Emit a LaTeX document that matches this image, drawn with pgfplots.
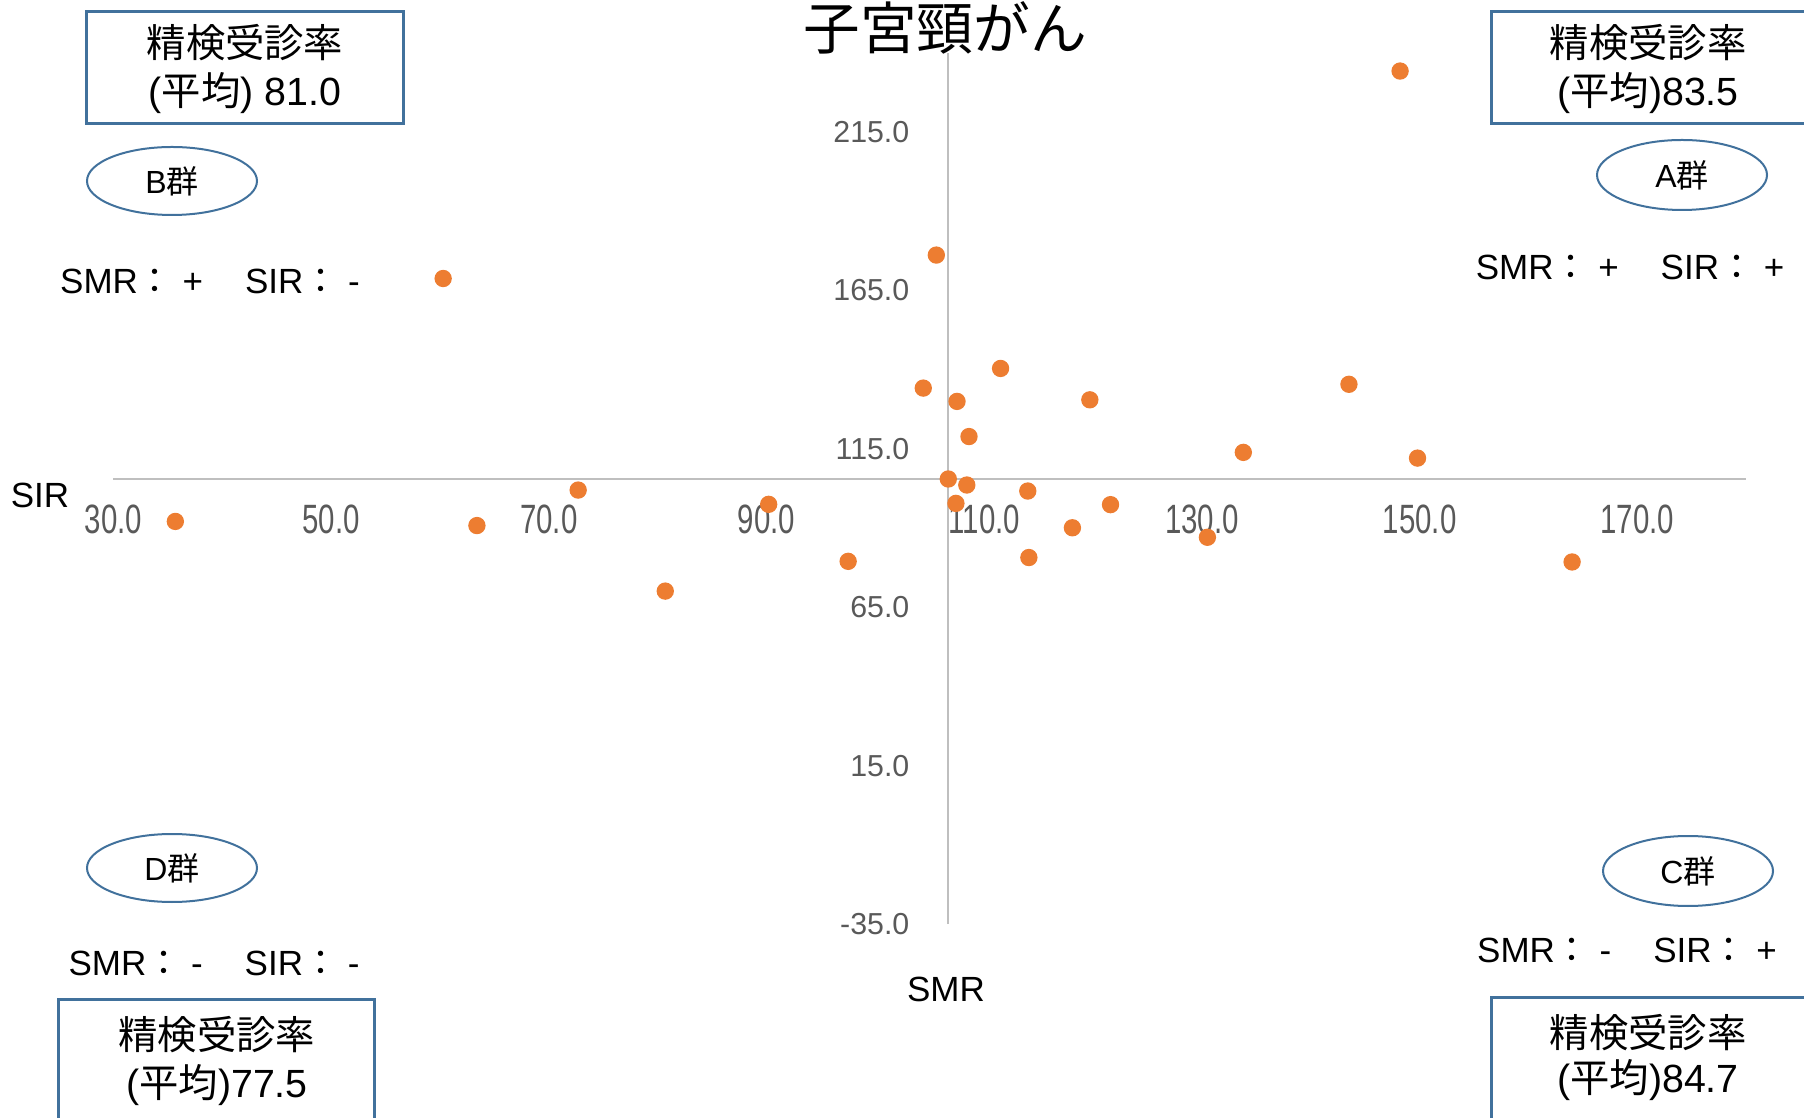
\documentclass[border=0pt]{standalone}
\usepackage{fontspec}
\setmainfont{Liberation Sans}
\newfontfamily\jp{Noto Sans CJK JP}
\usepackage{graphicx}
\usepackage{pgfplots}
\pgfplotsset{compat=1.18}
\definecolor{dot}{HTML}{ED7D31}
\definecolor{shp}{HTML}{41719C}
\definecolor{axl}{HTML}{BFBFBF}
\definecolor{tk}{HTML}{595959}
\newcommand\bx{\fontsize{11.8}{15}\selectfont}
\newcommand\gx{\fontsize{9.6}{11}\selectfont}
\newcommand\sx{\fontsize{10.5}{12}\selectfont}
\begin{document}
\begin{tikzpicture}
\begin{axis}[
  at={(0pt,0pt)}, anchor=south west,
  scale only axis, width=489.9pt, height=261.3pt,
  xmin=30, xmax=180, ymin=-35, ymax=240,
  axis line style={draw=none},
  major tick length=0pt,
  xtick={30,50,...,170},
  ytick={-35,15,...,215},
  /pgf/number format/.cd, fixed, fixed zerofill, precision=1, assume math mode=true,
  /pgfplots/.cd,
  xticklabel={\scalebox{0.97}[1.35]{\pgfmathprintnumber{\tick}}},
  tick label style={font=\fontsize{9.1}{10}\selectfont, text=tk},
  xticklabel style={anchor=center, yshift=121.5pt, inner sep=0pt},
  yticklabel style={anchor=east, xshift=239pt, inner sep=0pt},
  clip=false,
]
\addplot[axl, line width=0.6pt, forget plot] coordinates {(30,105.5) (180,105.5)};
\addplot[axl, line width=0.6pt, forget plot] coordinates {(106.7,-35) (106.7,240)};
\addplot[only marks, mark=*, mark size=2.4pt, color=dot, mark options={draw=dot, fill=dot}] table {
x y
148.2 234.3
105.6 176.2
60.3 168.8
111.5 140.4
104.4 134.2
143.5 135.4
107.5 130.0
119.7 130.5
108.6 118.9
133.8 113.9
149.8 112.1
106.7 105.5
108.4 103.6
72.7 102.0
114.0 101.7
90.2 97.5
107.4 97.8
121.6 97.4
35.7 92.1
63.4 90.8
118.1 90.1
130.5 87.1
97.5 79.5
114.1 80.7
164.0 79.3
80.7 70.1
};
\end{axis}
\begin{scope}[x=0.3pt, y=-0.3pt, shift={(-113.3,-924)}]
\node[font=\jp\fontsize{17}{20}\selectfont] at (945,28) {子宮頸がん};
% boxes
\draw[shp, line width=0.9pt] (87,12) rectangle (403,124);
\node[font=\bx] at (245,43) {{\jp 精検受診率}};
\node[font=\bx] at (245,93) {({\jp 平均}) 81.0};
\draw[shp, line width=0.9pt] (1491,12) rectangle (1860,124);
\node[font=\bx] at (1648,43) {{\jp 精検受診率}};
\node[font=\bx] at (1648,93) {({\jp 平均})83.5};
\draw[shp, line width=0.9pt] (59,999) rectangle (374,1160);
\node[font=\bx] at (217,1035) {{\jp 精検受診率}};
\node[font=\bx] at (217,1085) {({\jp 平均})77.5};
\draw[shp, line width=0.9pt] (1491,997) rectangle (1860,1160);
\node[font=\bx] at (1648,1033) {{\jp 精検受診率}};
\node[font=\bx] at (1648,1080) {({\jp 平均})84.7};
% ellipses
\draw[shp, line width=0.6pt] (172,181) ellipse (85 and 34);
\node[font=\gx] at (172,181) {B{\jp 群}};
\draw[shp, line width=0.6pt] (1682,175) ellipse (85 and 35);
\node[font=\gx] at (1682,175) {A{\jp 群}};
\draw[shp, line width=0.6pt] (172,868) ellipse (85 and 34);
\node[font=\gx] at (172,868) {D{\jp 群}};
\draw[shp, line width=0.6pt] (1688,871) ellipse (85 and 35);
\node[font=\gx] at (1688,871) {C{\jp 群}};
% sign lines
\node[font=\sx] at (210,281) {SMR{\jp ：} +\hspace{1.2em}SIR{\jp ：} -};
\node[font=\sx] at (1630,267) {SMR{\jp ：} +\hspace{1.2em}SIR{\jp ：} +};
\node[font=\sx] at (214,963) {SMR{\jp ：} -\hspace{1.2em}SIR{\jp ：} -};
\node[font=\sx] at (1627,950) {SMR{\jp ：} -\hspace{1.2em}SIR{\jp ：} +};
% axis titles
\node[font=\fontsize{10.5}{12}\selectfont] at (40,495) {SIR};
\node[font=\fontsize{10.5}{12}\selectfont] at (946,989) {SMR};
\pgfresetboundingbox
\path[use as bounding box] (0,0) rectangle (1804,1117);
\end{scope}
\end{tikzpicture}
\end{document}
